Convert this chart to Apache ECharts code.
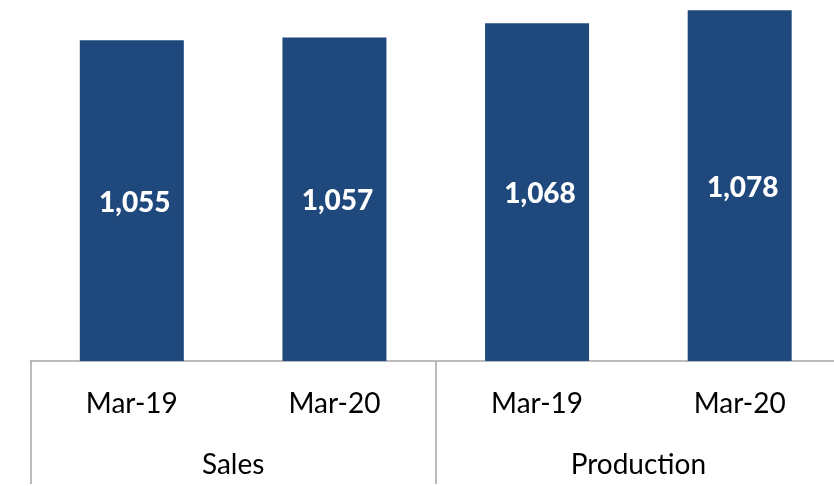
<!DOCTYPE html>
<html>
<head>
<meta charset="utf-8">
<script src="https://cdn.jsdelivr.net/npm/echarts@6/dist/echarts.min.js"></script>
<style>
html,body{margin:0;padding:0;background:#fff;overflow:hidden;}
#main{width:841px;height:486px;}
</style>
</head>
<body>
<div id="main"></div>
<script>
const periods = ['Mar-19', 'Mar-20', 'Mar-19', 'Mar-20'];
const groups = ['Sales', 'Production'];
const values = [1055, 1057, 1068, 1078];

const chart = echarts.init(document.getElementById('main'), null, {renderer: 'canvas'});
const font = 'Lato, "Open Sans", sans-serif';
chart.setOption({
  animation: false,
  backgroundColor: '#ffffff',
  grid: {left: 30.5, right: 0, top: 1, bottom: 125, containLabel: false},
  xAxis: [
    {
      type: 'category',
      data: periods,
      position: 'bottom',
      axisLine: {show: true, lineStyle: {color: '#a6a6a6', width: 1.5}},
      axisTick: {show: false},
      axisLabel: {color: '#000', fontFamily: font, fontSize: 28, margin: 29, interval: 0}
    },
    {
      type: 'category',
      data: groups,
      position: 'bottom',
      axisLine: {show: false},
      axisTick: {show: true, length: 123, interval: 0, lineStyle: {color: '#a6a6a6', width: 1.5}},
      axisLabel: {color: '#000', fontFamily: font, fontSize: 28, margin: 90, interval: 0}
    }
  ],
  yAxis: {
    type: 'value',
    min: 809,
    max: 1085,
    show: false,
    splitLine: {show: false}
  },
  series: [{
    type: 'bar',
    xAxisIndex: 0,
    data: values,
    barWidth: 104,
    itemStyle: {color: '#1f487c'},
    label: {
      show: true,
      position: 'inside',
      offset: [3, 2],
      color: '#fff',
      fontFamily: font,
      fontWeight: 900,
      fontSize: 28,
      formatter: p => p.value.toLocaleString('en-US')
    }
  }]
});
</script>
</body>
</html>
